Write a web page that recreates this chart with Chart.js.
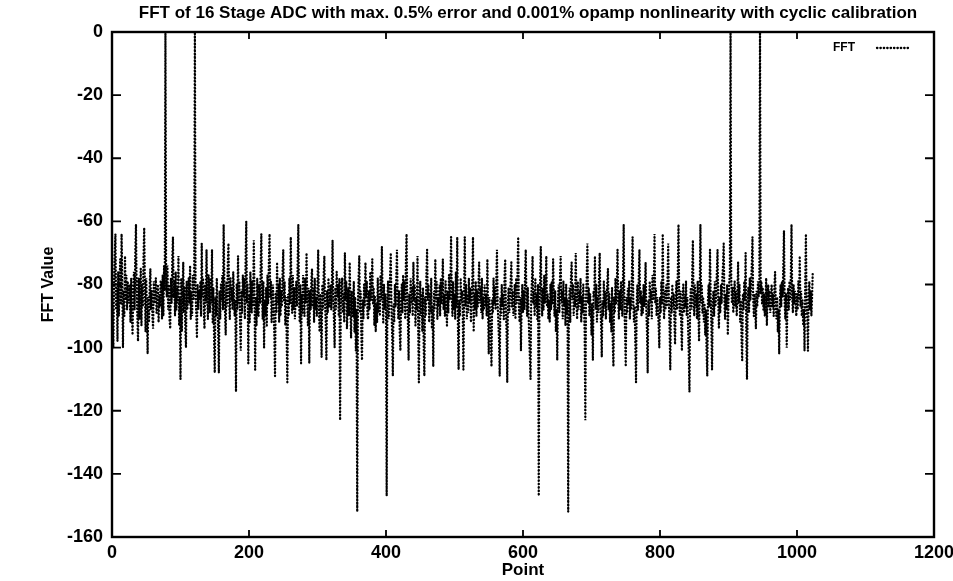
<!DOCTYPE html>
<html>
<head>
<meta charset="utf-8">
<title>FFT 16 Stage ADC</title>
<script src="https://cdn.jsdelivr.net/npm/chart.js@4.4.1/dist/chart.umd.min.js"></script>
<style>
  html, body { margin: 0; padding: 0; background: #fff; }
</style>
</head>
<body>
<canvas id="graficoFFT" width="953" height="581"></canvas>
<script>
const titulo = 'FFT of 16 Stage ADC with max. 0.5% error and 0.001% opamp nonlinearity with cyclic calibration';
const etiquetaSerie = 'FFT';
const tituloX = 'Point';
const tituloY = 'FFT Value';
const ticksX = [0, 200, 400, 600, 800, 1000, 1200];
const ticksY = [0, -20, -40, -60, -80, -100, -120, -140, -160];

// magnitud de cada punto de la FFT (dB), puntos 0..1023
const valoresFFT = [
  -84, -92, -100, -79, -70, -64, -88, -81, -98, -76, -90, -80, -72, -86, -64, -78,
  -100, -82, -90, -71, -85, -77, -88, -79, -86, -80, -84, -92, -78, -88, -96, -83,
  -76, -88, -70, -61, -82, -90, -98, -78, -91, -84, -75, -93, -80, -87, -72, -62,
  -80, -95, -78, -89, -102, -84, -92, -81, -75, -88, -82, -90, -94, -79, -86, -83,
  -78, -89, -84, -80, -92, -83, -87, -79, -80, -91, -77, -90, -74, -82, 0, -76,
  -84, -74, -88, -80, -91, -94, -78, -86, -72, -65, -84, -79, -90, -76, -88, -81,
  -86, -71, -93, -84, -110, -78, -95, -82, -73, -89, -81, -94, -100, -79, -88, -84,
  -78, -86, -74, -91, -82, -90, -77, -85, -79, 0, -83, -89, -97, -80, -88, -82,
  -85, -79, -90, -67, -84, -78, -88, -94, -80, -86, -69, -83, -91, -77, -82, -89,
  -78, -86, -69, -92, -81, -97, -108, -84, -90, -78, -87, -95, -108, -82, -91, -80,
  -85, -77, -88, -61, -80, -89, -96, -79, -87, -74, -67, -84, -91, -78, -85, -81,
  -88, -76, -83, -90, -85, -114, -80, -88, -71, -86, -79, -93, -101, -82, -89, -77,
  -84, -78, -91, -73, -60, -86, -80, -105, -83, -92, -76, -85, -89, -79, -87, -66,
  -82, -107, -84, -93, -78, -88, -90, -80, -86, -75, -64, -83, -91, -79, -100, -85,
  -90, -81, -93, -77, -86, -73, -64, -84, -79, -92, -85, -80, -88, -96, -109, -83,
  -89, -73, -86, -80, -92, -78, -90, -82, -87, -76, -69, -85, -79, -93, -84, -97,
  -111, -83, -90, -78, -86, -65, -82, -89, -77, -88, -81, -91, -85, -79, -87, -74,
  -61, -84, -92, -80, -105, -83, -89, -77, -82, -90, -78, -86, -70, -85, -93, -81,
  -105, -82, -88, -79, -75, -87, -81, -92, -78, -88, -84, -90, -80, -69, -86, -95,
  -83, -91, -103, -80, -88, -77, -71, -86, -92, -104, -82, -89, -78, -87, -85, -80,
  -88, -79, -66, -85, -91, -100, -81, -88, -76, -84, -80, -90, -78, -123, -86, -80,
  -78, -89, -83, -92, -70, -85, -79, -94, -88, -81, -90, -73, -86, -97, -82, -88,
  -90, -79, -95, -84, -101, -88, -152, -86, -78, -71, -89, -82, -96, -104, -85, -91,
  -80, -87, -73, -84, -79, -90, -91, -82, -88, -76, -85, -80, -72, -86, -81, -93,
  -84, -95, -86, -92, -78, -89, -83, -90, -77, -85, -68, -84, -92, -80, -88, -83,
  -90, -147, -85, -79, -91, -84, -77, -70, -88, -96, -109, -86, -92, -80, -87, -78,
  -69, -84, -91, -82, -95, -101, -86, -80, -89, -77, -85, -79, -91, -74, -64, -86,
  -92, -104, -83, -89, -78, -86, -81, -90, -73, -85, -80, -93, -84, -88, -71, -94,
  -111, -86, -79, -90, -83, -95, -81, -99, -109, -84, -90, -77, -69, -85, -80, -92,
  -83, -89, -78, -94, -87, -106, -82, -88, -72, -85, -79, -91, -84, -87, -80, -90,
  -78, -86, -81, -72, -88, -83, -90, -79, -87, -93, -82, -89, -77, -85, -80, -65,
  -84, -90, -79, -88, -83, -91, -76, -87, -65, -93, -107, -85, -90, -78, -86, -82,
  -88, -107, -84, -65, -87, -80, -91, -83, -89, -78, -86, -81, -92, -84, -79, -65,
  -95, -83, -88, -79, -90, -82, -87, -80, -73, -86, -81, -89, -78, -91, -84, -88,
  -80, -87, -83, -90, -72, -88, -102, -84, -91, -96, -106, -85, -89, -78, -86, -81,
  -88, -79, -69, -86, -92, -98, -109, -84, -90, -80, -87, -83, -91, -78, -72, -88,
  -95, -111, -86, -81, -89, -84, -79, -73, -87, -82, -90, -85, -80, -91, -78, -86,
  -76, -65, -87, -92, -84, -101, -86, -80, -89, -82, -88, -77, -69, -84, -90, -81,
  -88, -96, -103, -110, -84, -79, -71, -86, -82, -90, -78, -87, -83, -91, -80, -147,
  -86, -79, -68, -85, -90, -81, -88, -77, -86, -82, -71, -87, -83, -91, -85, -92,
  -80, -88, -79, -86, -72, -84, -90, -82, -95, -88, -104, -85, -80, -89, -78, -71,
  -86, -82, -91, -79, -87, -84, -93, -80, -89, -85, -152, -88, -81, -92, -78, -73,
  -85, -80, -90, -83, -87, -70, -84, -91, -79, -88, -82, -86, -78, -92, -84, -89,
  -80, -87, -95, -123, -84, -78, -67, -86, -81, -90, -83, -88, -96, -86, -104, -82,
  -84, -71, -88, -80, -92, -84, -89, -78, -70, -86, -93, -103, -85, -90, -79, -87,
  -82, -91, -84, -80, -75, -88, -83, -92, -86, -95, -81, -98, -106, -84, -89, -78,
  -86, -80, -69, -85, -91, -82, -88, -79, -86, -90, -77, -61, -87, -95, -106, -84,
  -89, -81, -86, -79, -91, -84, -88, -76, -65, -85, -92, -87, -99, -111, -86, -80,
  -88, -78, -69, -86, -82, -90, -84, -89, -80, -87, -81, -73, -88, -95, -108, -85,
  -90, -79, -86, -82, -91, -77, -85, -80, -64, -86, -81, -90, -84, -88, -93, -100,
  -84, -89, -79, -86, -64, -85, -91, -82, -88, -80, -87, -78, -67, -86, -94, -107,
  -84, -89, -80, -87, -83, -91, -99, -85, -79, -88, -76, -61, -84, -90, -82, -93,
  -101, -85, -80, -89, -83, -87, -79, -90, -84, -94, -102, -114, -86, -81, -88, -77,
  -66, -85, -90, -80, -87, -83, -91, -79, -88, -98, -82, -61, -86, -80, -89, -84,
  -92, -86, -96, -88, -101, -109, -85, -80, -87, -69, -84, -93, -107, -86, -82, -90,
  -79, -87, -83, -76, -69, -85, -94, -84, -89, -80, -86, -78, -74, -67, -85, -91,
  -83, -88, -80, -96, -85, -80, -76, 0, -78, -86, -81, -89, -84, -79, -87, -82,
  -90, -84, -73, -86, -80, -92, -85, -97, -104, -83, -88, -79, -85, -70, -96, -110,
  -86, -81, -89, -78, -85, -80, -74, -65, -84, -90, -83, -88, -94, -82, -87, -79,
  -84, -80, 0, -83, -79, -86, -81, -88, -83, -90, -85, -78, -93, -84, -80, -87,
  -82, -89, -84, -80, -87, -83, -90, -81, -76, -86, -91, -84, -95, -88, -102, -85,
  -80, -87, -79, -84, -74, -63, -86, -91, -83, -100, -86, -81, -88, -79, -85, -77,
  -61, -84, -89, -80, -86, -82, -87, -90, -83, -88, -79, -85, -71, -87, -82, -90,
  -85, -93, -88, -101, -80, -64, -86, -91, -101, -84, -79, -88, -82, -90, -84, -76
];

const fuente = '"Liberation Sans", Arial, Helvetica, sans-serif';
const punteado = [0.4, 3];

// marco estilo gnuplot: borde, ticks hacia adentro, titulo y clave
const marcoGnuplot = {
  id: 'marcoGnuplot',
  afterDraw(chart) {
    const { ctx, chartArea: a, scales } = chart;
    ctx.save();
    ctx.strokeStyle = '#000';
    ctx.lineWidth = 2.4;
    ctx.strokeRect(a.left, a.top, a.right - a.left, a.bottom - a.top);

    ctx.lineWidth = 1.8;
    ctx.beginPath();
    scales.x.ticks.forEach(t => {
      const px = scales.x.getPixelForValue(t.value);
      ctx.moveTo(px, a.bottom); ctx.lineTo(px, a.bottom - 7);
      ctx.moveTo(px, a.top); ctx.lineTo(px, a.top + 7);
    });
    scales.y.ticks.forEach(t => {
      const py = scales.y.getPixelForValue(t.value);
      ctx.moveTo(a.left, py); ctx.lineTo(a.left + 9, py);
      ctx.moveTo(a.right, py); ctx.lineTo(a.right - 9, py);
    });
    ctx.stroke();

    ctx.fillStyle = '#000';
    ctx.font = 'bold 17px ' + fuente;
    ctx.textAlign = 'center';
    ctx.textBaseline = 'middle';
    ctx.fillText(titulo, (a.left + a.right) / 2 + 5, 13);

    // clave de la serie
    const ds = chart.data.datasets[0];
    ctx.font = 'bold 12px ' + fuente;
    ctx.textAlign = 'right';
    ctx.fillText(ds.label, a.right - 79, a.top + 16);
    ctx.lineWidth = ds.borderWidth;
    ctx.lineCap = 'round';
    ctx.setLineDash(punteado);
    ctx.beginPath();
    ctx.moveTo(a.right - 57, a.top + 16);
    ctx.lineTo(a.right - 24, a.top + 16);
    ctx.stroke();
    ctx.restore();
  }
};

const fuenteEjes = { family: fuente, size: 18, weight: 'bold' };

const ctxFFT = document.getElementById('graficoFFT');

let fftChart = new Chart(ctxFFT, {
  type: 'line',
  data: {
    datasets: [{
      label: etiquetaSerie,
      data: valoresFFT.map((v, i) => ({ x: i, y: v })),
      borderColor: '#000',
      borderWidth: 2.3,
      borderDash: punteado,
      borderCapStyle: 'round',
      pointRadius: 0,
      tension: 0,
      fill: false
    }]
  },
  options: {
    responsive: false,
    animation: false,
    devicePixelRatio: 1,
    layout: { padding: { top: 32, right: 0, bottom: 0, left: 0 } },
    plugins: {
      legend: { display: false },
      title: { display: false },
      tooltip: { enabled: false }
    },
    scales: {
      x: {
        type: 'linear',
        min: 0,
        max: 1200,
        afterBuildTicks: axis => { axis.ticks = ticksX.map(v => ({ value: v })); },
        afterFit: s => { s.height = 44; s.paddingLeft = 0; s.paddingRight = 19; },
        grid: { display: false, drawTicks: false },
        border: { display: false },
        ticks: { color: '#000', font: fuenteEjes, padding: 5, maxRotation: 0, autoSkip: false, callback: v => String(v) },
        title: { display: true, text: tituloX, color: '#000', font: { family: fuente, size: 17, weight: 'bold' }, padding: 0 }
      },
      y: {
        type: 'linear',
        min: -160,
        max: 0,
        afterBuildTicks: axis => { axis.ticks = ticksY.map(v => ({ value: v })); },
        afterFit: s => { s.width = 112; s.paddingTop = 0; s.paddingBottom = 0; },
        grid: { display: false, drawTicks: false },
        border: { display: false },
        ticks: { color: '#000', font: fuenteEjes, padding: 9, callback: v => String(v) },
        title: { display: true, text: tituloY, color: '#000', font: { family: fuente, size: 16, weight: 'bold' }, padding: { top: 39, bottom: 0 } }
      }
    }
  },
  plugins: [marcoGnuplot]
});
</script>
</body>
</html>
